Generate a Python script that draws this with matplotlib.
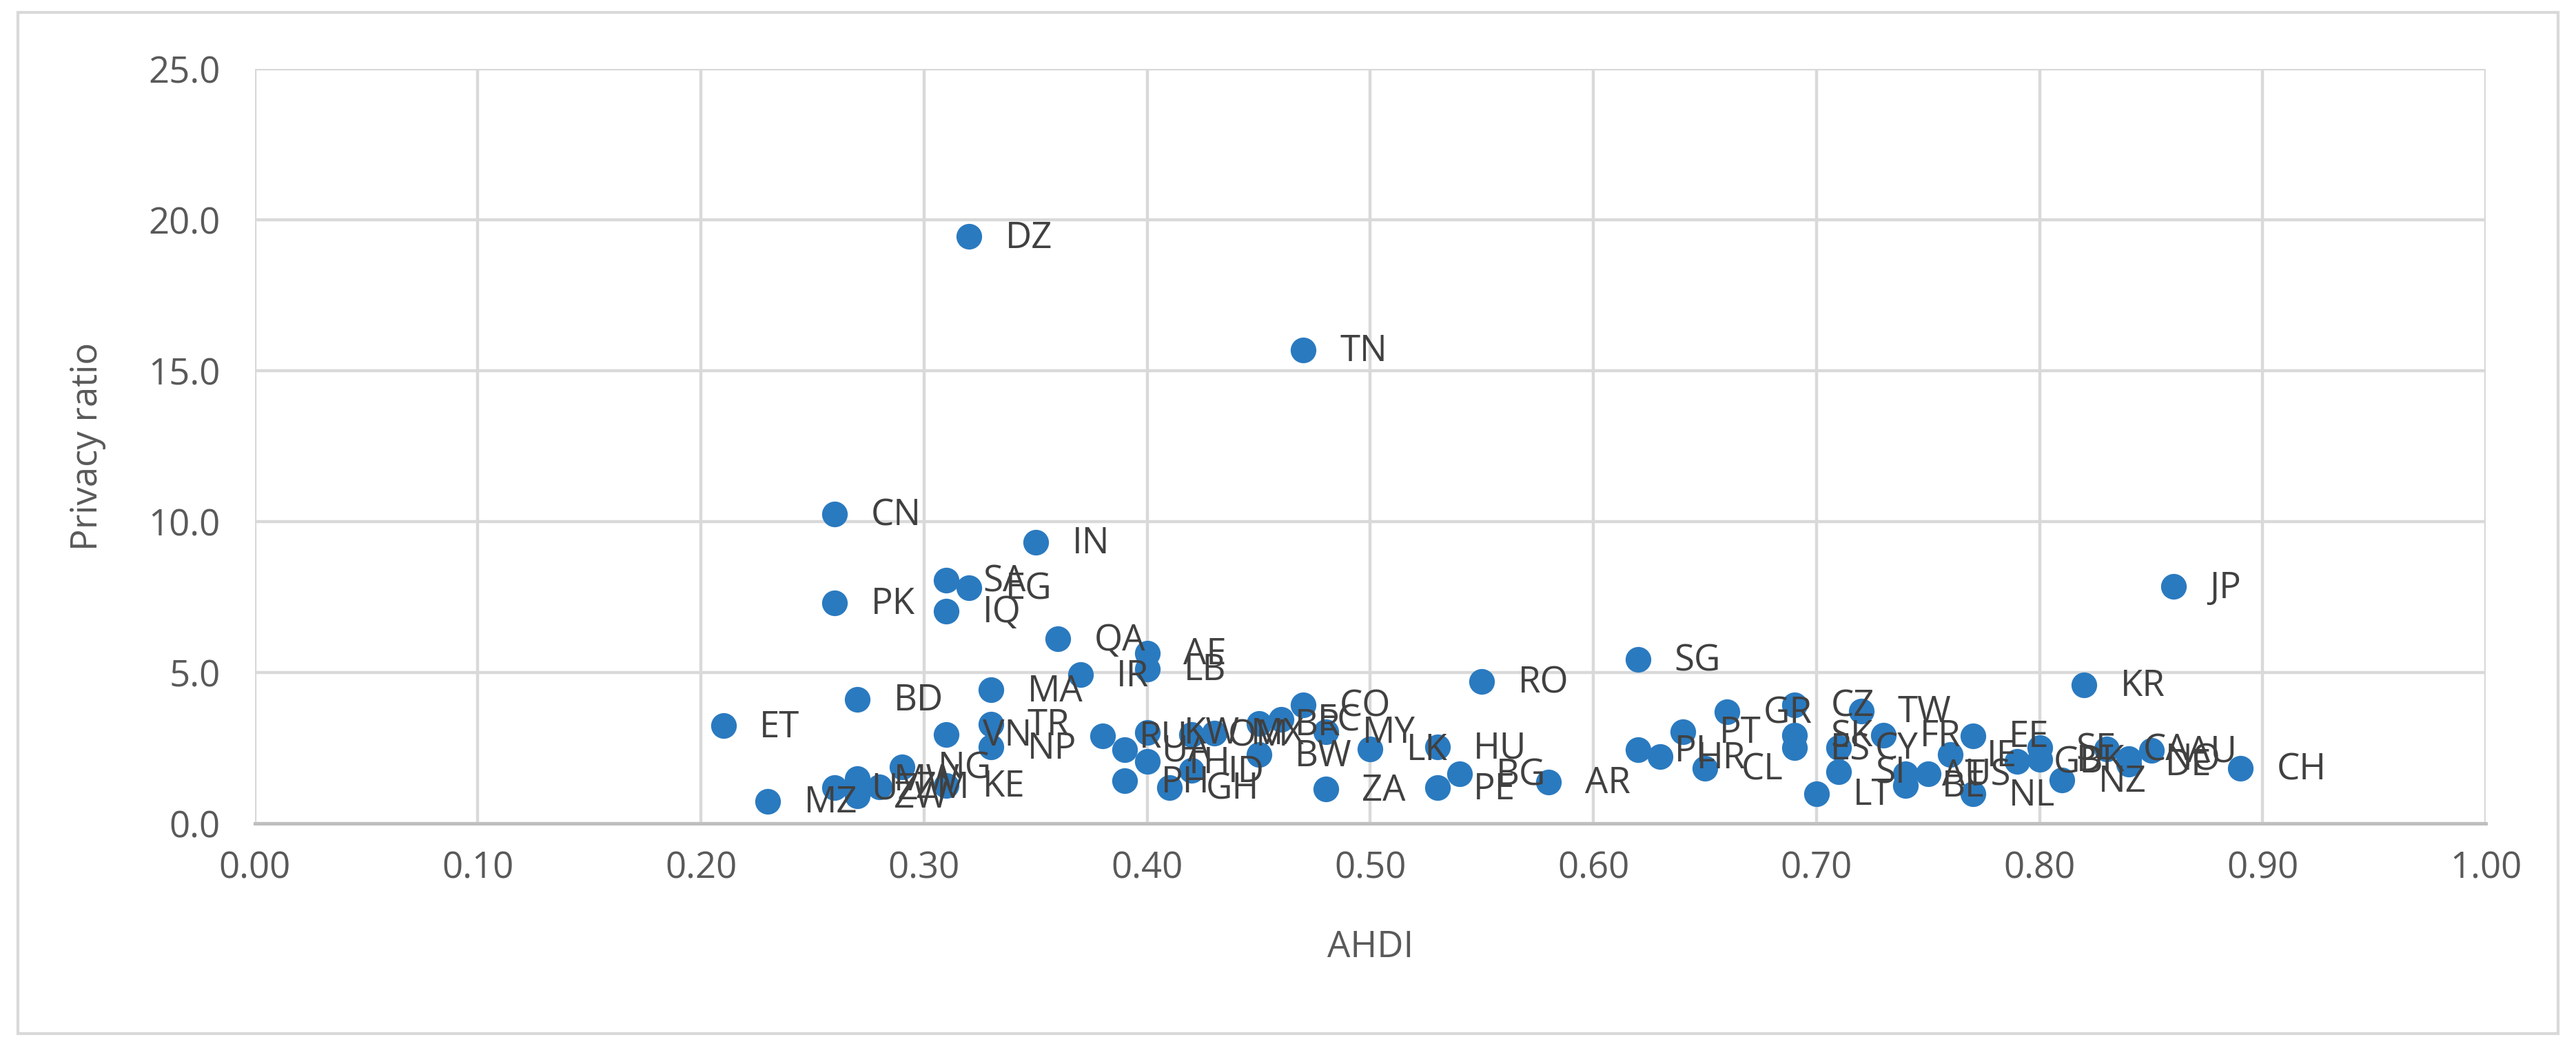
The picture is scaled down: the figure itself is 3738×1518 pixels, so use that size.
import matplotlib
matplotlib.use("Agg")
import matplotlib.pyplot as plt
from matplotlib.patches import Rectangle

plt.rcParams['font.family'] = ['Open Sans', 'DejaVu Sans']

codes = ["DZ", "TN", "CN", "IN", "SA", "EG", "PK", "IQ", "QA", "AE", "LB", "IR",
         "MA", "BD", "ET", "VN", "TR", "NP", "MZ", "UZ", "ZW", "MW", "ZM", "NG", "KE",
         "RU", "UA", "PH", "KW", "TH", "GH", "OM", "ID", "MX", "BR", "BW", "EC", "CO",
         "MY", "ZA", "LK", "HU", "PE", "BG", "RO", "AR", "SG",
         "PL", "HR", "PT", "CL", "GR", "CZ", "SK", "ES", "LT", "CY", "SI", "TW", "FR",
         "AT", "BE", "US", "IE", "EE", "NL", "GB", "DK", "SE", "NZ", "KR", "CA", "DE",
         "NO", "AU", "JP", "CH"]
ahdi = [0.32, 0.47, 0.26, 0.35, 0.31, 0.32, 0.26, 0.31, 0.36, 0.40, 0.40, 0.37,
        0.33, 0.27, 0.21, 0.31, 0.33, 0.33, 0.23, 0.26, 0.27, 0.27, 0.28, 0.29, 0.31,
        0.38, 0.39, 0.39, 0.40, 0.40, 0.41, 0.42, 0.42, 0.43, 0.45, 0.45, 0.46, 0.47,
        0.48, 0.48, 0.50, 0.53, 0.53, 0.54, 0.55, 0.58, 0.62,
        0.62, 0.63, 0.64, 0.65, 0.66, 0.69, 0.69, 0.69, 0.70, 0.71, 0.71, 0.72, 0.73,
        0.74, 0.74, 0.75, 0.76, 0.77, 0.77, 0.79, 0.80, 0.80, 0.81, 0.82, 0.83, 0.84,
        0.84, 0.85, 0.86, 0.89]
privacy = [19.45, 15.69, 10.25, 9.32, 8.07, 7.80, 7.31, 7.04, 6.11, 5.64, 5.12, 4.93,
           4.42, 4.11, 3.24, 2.95, 3.29, 2.53, 0.74, 1.18, 0.91, 1.48, 1.22, 1.87, 1.26,
           2.90, 2.44, 1.41, 3.02, 2.05, 1.18, 2.95, 1.75, 3.00, 3.31, 2.28, 3.45, 3.92,
           3.04, 1.14, 2.47, 2.53, 1.18, 1.64, 4.70, 1.37, 5.44,
           2.44, 2.21, 3.04, 1.83, 3.69, 3.92, 2.93, 2.50, 0.99, 2.51, 1.71, 3.73, 2.93,
           1.64, 1.26, 1.64, 2.28, 2.90, 0.97, 2.05, 2.12, 2.50, 1.43, 4.60, 2.47, 1.97,
           2.15, 2.42, 7.85, 1.83]

x_ticks = [0.0, 0.1, 0.2, 0.3, 0.4, 0.5, 0.6, 0.7, 0.8, 0.9, 1.0]
y_ticks = [0.0, 5.0, 10.0, 15.0, 20.0, 25.0]

fig = plt.figure(figsize=(18.69, 7.59), dpi=200)
ax = fig.add_axes([0.0989, 0.2128, 0.8661, 0.7213])

ax.scatter(ahdi, privacy, s=180, color='#2a7ac0', zorder=3, linewidths=0)
for c, xv, yv in zip(codes, ahdi, privacy):
    ax.annotate(c, (xv, yv), xytext=(19, -1), textcoords='offset points',
                ha='left', va='center', fontsize=19, color='#404040', zorder=4)

ax.set_xlim(0, 1.0)
ax.set_ylim(0, 25)
ax.set_xticks(x_ticks)
ax.set_yticks(y_ticks)
ax.set_xticklabels([f"{v:.2f}" for v in x_ticks])
ax.set_yticklabels([f"{v:.1f}" for v in y_ticks])
ax.tick_params(axis='both', length=0, labelsize=19, colors='#595959')
ax.tick_params(axis='x', pad=14)
ax.tick_params(axis='y', pad=18)
ax.grid(True, color='#d9d9d9', linewidth=1.6, zorder=0)
ax.set_axisbelow(True)
for side in ['top', 'right', 'left']:
    ax.spines[side].set_visible(False)
ax.spines['bottom'].set_color('#bfbfbf')
ax.spines['bottom'].set_linewidth(1.8)

ax.set_xlabel("AHDI", fontsize=19, color='#595959', labelpad=22)
ax.set_ylabel("Privacy ratio", fontsize=19, color='#595959', labelpad=22)

fig.patches.append(Rectangle((0.007, 0.012), 0.986, 0.976, transform=fig.transFigure,
                             fill=False, edgecolor='#d9d9d9', linewidth=1.5))

fig.savefig("out.png", dpi=200, facecolor='white')
